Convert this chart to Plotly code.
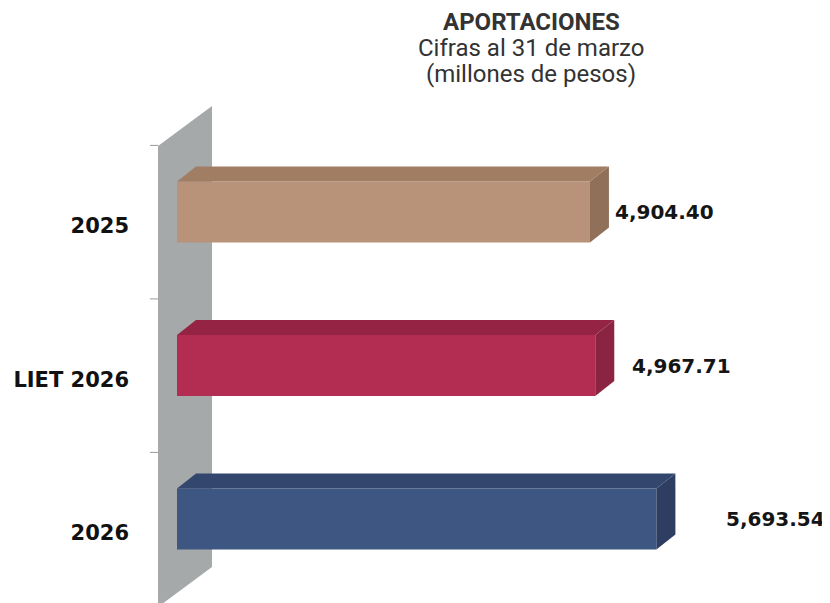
import plotly.graph_objects as go

# ---- data ----
categories = ["2025", "LIET 2026", "2026"]
values = [4904.40, 4967.71, 5693.54]
front_colors = ["#B8937A", "#B32C51", "#3E5682"]
top_colors = ["#A17D64", "#952444", "#33476E"]
side_colors = ["#91705A", "#8A2442", "#2E3D62"]
label_xshift = [4, 16, 49]

title_main = "APORTACIONES"
title_sub1 = "Cifras al 31 de marzo"
title_sub2 = "(millones de pesos)"

# ---- geometry (style) ----
# the page adds an 8px body margin, so the figure is drawn 8px smaller and
# every target page position is expressed minus 8px
PAGE_OFF = 8
FIG_W, FIG_H = 830 - PAGE_OFF, 603 - PAGE_OFF
PLOT_L = 140 - PAGE_OFF          # plot area left edge (figure px)
PX_PER_X = 0.0842                # pixels per value unit
PX_PER_Y = 153.5                 # pixels per category
X0_PAGE = 177                    # page x of value 0
Y0_PAGE = 226                    # page y of first category centre
DX = 19 / PX_PER_X               # 3D depth in x units
DY = 15 / PX_PER_Y               # 3D depth in y units
BAR_W = 0.397
BAR_SHIFT = -0.091               # front face centre relative to category centre

ypos = list(range(len(categories)))

fig = go.Figure()

# front faces
fig.add_trace(go.Bar(
    x=values, y=ypos, orientation="h", width=BAR_W,
    offset=BAR_SHIFT - BAR_W / 2,
    marker=dict(color=front_colors, line=dict(width=0)),
    hoverinfo="skip", showlegend=False,
))

# top and side faces, value labels
for i, v in enumerate(values):
    yt = i + BAR_SHIFT - BAR_W / 2
    yb = i + BAR_SHIFT + BAR_W / 2
    fig.add_trace(go.Scatter(
        x=[0, v, v + DX, DX, 0], y=[yt, yt, yt - DY, yt - DY, yt],
        mode="lines", fill="toself", fillcolor=top_colors[i],
        line=dict(width=0, color=top_colors[i]), hoverinfo="skip", showlegend=False,
    ))
    fig.add_trace(go.Scatter(
        x=[v, v + DX, v + DX, v, v], y=[yt, yt - DY, yb - DY, yb, yt],
        mode="lines", fill="toself", fillcolor=side_colors[i],
        line=dict(width=0, color=side_colors[i]), hoverinfo="skip", showlegend=False,
    ))
    fig.add_annotation(
        x=v + DX, y=i + BAR_SHIFT, xref="x", yref="y",
        text=f"{v:,.2f}", showarrow=False, xanchor="left", yanchor="middle",
        xshift=label_xshift[i],
        font=dict(family="DejaVu Sans", size=20, color="#151515", weight="bold"),
    )

# gray back wall (page px relative to origin)
wl, wr = (158 - X0_PAGE) / PX_PER_X, (212 - X0_PAGE) / PX_PER_X
w_top_l, w_top_r = (146 - Y0_PAGE) / PX_PER_Y, (106 - Y0_PAGE) / PX_PER_Y
w_bot_l, w_bot_r = (607 - Y0_PAGE) / PX_PER_Y, (567 - Y0_PAGE) / PX_PER_Y
fig.add_shape(
    type="path", xref="x", yref="y", layer="below",
    path=f"M {wl},{w_top_l} L {wr},{w_top_r} L {wr},{w_bot_r} L {wl},{w_bot_l} Z",
    fillcolor="#A5A9AA", line=dict(width=0),
)
# boundary tick marks
for b in [-0.5, 0.5, 1.5]:
    fig.add_shape(type="line", xref="x", yref="y", layer="below",
                  x0=(150 - X0_PAGE) / PX_PER_X, x1=wl, y0=b - 0.025, y1=b - 0.025,
                  line=dict(color="#9a9a9a", width=1))

# title
title_font = dict(family="Roboto", size=24, color="#333333")
tx = (531 - PAGE_OFF - PLOT_L) / (FIG_W - PLOT_L)
for txt, ypage in [(f"<b>{title_main}</b>", 22), (title_sub1, 48), (title_sub2, 74)]:
    fig.add_annotation(text=txt, xref="paper", yref="paper",
                       x=tx, y=1 - (ypage - PAGE_OFF) / FIG_H, showarrow=False,
                       xanchor="center", yanchor="middle", font=title_font)

plot_w = FIG_W - PLOT_L
x_left = (PLOT_L + PAGE_OFF - X0_PAGE) / PX_PER_X
fig.update_layout(
    width=FIG_W, height=FIG_H,
    margin=dict(l=PLOT_L, r=0, t=0, b=0),
    plot_bgcolor="white", paper_bgcolor="white",
    xaxis=dict(range=[x_left, x_left + plot_w / PX_PER_X],
               visible=False, fixedrange=True),
    yaxis=dict(range=[(603 - Y0_PAGE) / PX_PER_Y, (PAGE_OFF - Y0_PAGE) / PX_PER_Y],
               tickvals=ypos, ticktext=categories, ticks="",
               showgrid=False, zeroline=False, showline=False,
               ticklabelstandoff=10,
               tickfont=dict(family="DejaVu Sans", size=21, color="#111111", weight="bold")),
    showlegend=False,
)

fig.write_html("out.html")
